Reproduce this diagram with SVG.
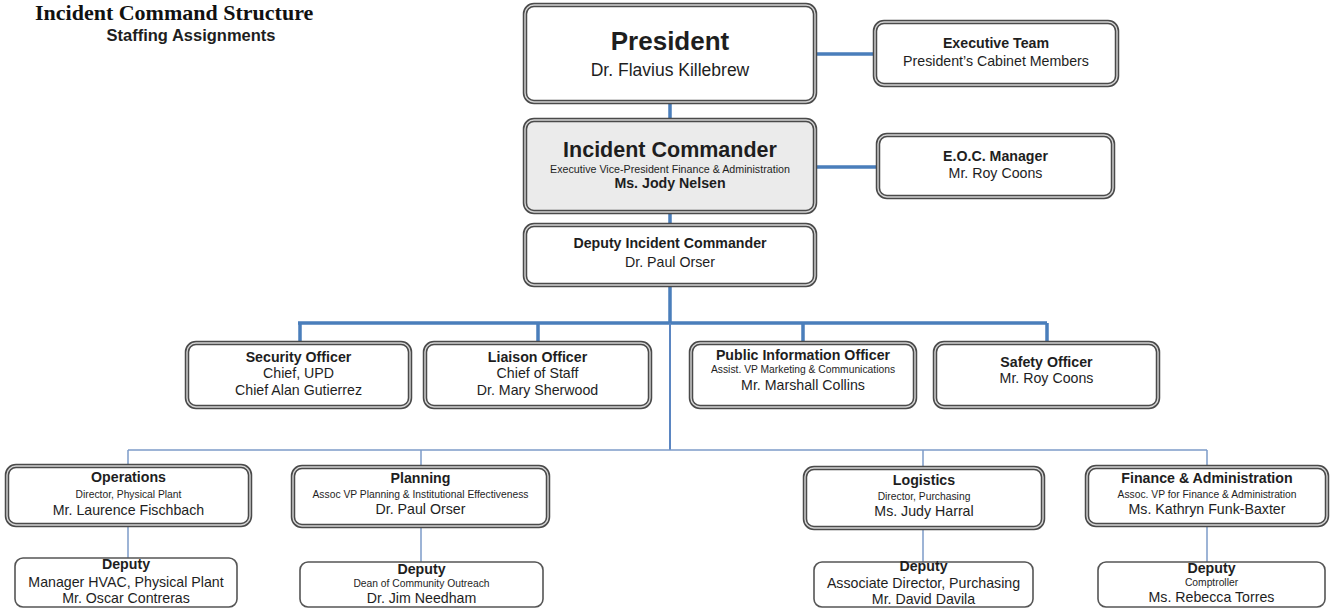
<svg xmlns="http://www.w3.org/2000/svg" width="1334" height="609" viewBox="0 0 1334 609">
<style>
text{font-family:"Liberation Sans",Arial,sans-serif;fill:#1e1e1e;text-anchor:middle}
.t{font-family:"Liberation Serif","Times New Roman",serif;font-weight:bold;font-size:22px;text-anchor:start;fill:#111}
.st{font-weight:bold;font-size:16.5px}
.h{font-weight:bold;font-size:14.2px}
.n{font-size:14.2px}
.s{font-size:10.3px}
.o{fill:#fff;stroke:#4a4a4a;stroke-width:4.5}
.i{fill:none;stroke:#d4d4d4;stroke-width:1.4}
.g{fill:#ebebeb}
.sb{fill:#fff;stroke:#555;stroke-width:1.6}
.k{stroke:#4a7ebb;stroke-width:3.5;fill:none}
.m{stroke:#5b86c2;stroke-width:2;fill:none}
.l{stroke:#7d9cc9;stroke-width:1.5;fill:none}
</style>
<rect width="1334" height="609" fill="#fff"/>
<text class="t" x="35" y="20">Incident Command Structure</text>
<text class="st" x="191" y="41">Staffing Assignments</text>

<g id="connectors">
<path class="k" d="M815 54H875M670 102V120M815 167H878M670 212V225M670 285V323M298 323H1047M300 323V343M538 323V343M803 323V343M1047 323V343"/>
<path class="m" d="M670 323V450"/>
<path class="l" d="M128 450H1207M128 450V467M421 450V467M923 450V468M1207 450V467M128 525V558M421 526V562M923 528V562M1207 525V562"/>
</g>

<g id="president">
<rect class="o" x="525" y="5" width="290" height="97" rx="9"/>
<rect class="i" x="525" y="5" width="290" height="97" rx="9"/>
<text x="670" y="50" font-weight="bold" font-size="26">President</text>
<text x="670" y="76" font-size="17.5">Dr. Flavius Killebrew</text>
</g>

<g id="executive-team">
<rect class="o" x="875" y="22" width="242" height="63" rx="9"/>
<rect class="i" x="875" y="22" width="242" height="63" rx="9"/>
<text class="h" x="996" y="48">Executive Team</text>
<text class="n" x="996" y="66">President’s Cabinet Members</text>
</g>

<g id="incident-commander">
<rect class="o g" x="525" y="120" width="290" height="92" rx="9"/>
<rect class="i" x="525" y="120" width="290" height="92" rx="9"/>
<text x="670" y="157" font-weight="bold" font-size="21.5">Incident Commander</text>
<text x="670" y="173" font-size="10.7">Executive Vice-President Finance &amp; Administration</text>
<text class="h" x="670" y="188">Ms. Jody Nelsen</text>
</g>

<g id="eoc-manager">
<rect class="o" x="878" y="135" width="235" height="62" rx="9"/>
<rect class="i" x="878" y="135" width="235" height="62" rx="9"/>
<text class="h" x="995.5" y="161">E.O.C. Manager</text>
<text class="n" x="995.5" y="178">Mr. Roy Coons</text>
</g>

<g id="deputy-ic">
<rect class="o" x="525" y="225" width="290" height="60" rx="9"/>
<rect class="i" x="525" y="225" width="290" height="60" rx="9"/>
<text class="h" x="670" y="248">Deputy Incident Commander</text>
<text class="n" x="670" y="267">Dr. Paul Orser</text>
</g>

<g id="security">
<rect class="o" x="187" y="343" width="223" height="64" rx="9"/>
<rect class="i" x="187" y="343" width="223" height="64" rx="9"/>
<text class="h" x="298.5" y="362">Security Officer</text>
<text class="n" x="298.5" y="378">Chief, UPD</text>
<text class="n" x="298.5" y="395">Chief Alan Gutierrez</text>
</g>

<g id="liaison">
<rect class="o" x="425" y="343" width="225" height="64" rx="9"/>
<rect class="i" x="425" y="343" width="225" height="64" rx="9"/>
<text class="h" x="537.5" y="362">Liaison Officer</text>
<text class="n" x="537.5" y="378">Chief of Staff</text>
<text class="n" x="537.5" y="395">Dr. Mary Sherwood</text>
</g>

<g id="pio">
<rect class="o" x="691" y="343" width="224" height="64" rx="9"/>
<rect class="i" x="691" y="343" width="224" height="64" rx="9"/>
<text class="h" x="803" y="360">Public Information Officer</text>
<text class="s" x="803" y="373">Assist. VP Marketing &amp; Communications</text>
<text class="n" x="803" y="390">Mr. Marshall Collins</text>
</g>

<g id="safety">
<rect class="o" x="935" y="343" width="223" height="64" rx="9"/>
<rect class="i" x="935" y="343" width="223" height="64" rx="9"/>
<text class="h" x="1046.5" y="367">Safety Officer</text>
<text class="n" x="1046.5" y="383">Mr. Roy Coons</text>
</g>

<g id="operations">
<rect class="o" x="7" y="466" width="243" height="59" rx="9"/>
<rect class="i" x="7" y="466" width="243" height="59" rx="9"/>
<text class="h" x="128.5" y="482">Operations</text>
<text class="s" x="128.5" y="498" font-size="10.6">Director, Physical Plant</text>
<text class="n" x="128.5" y="515">Mr. Laurence Fischbach</text>
</g>

<g id="planning">
<rect class="o" x="293" y="467" width="255" height="59" rx="9"/>
<rect class="i" x="293" y="467" width="255" height="59" rx="9"/>
<text class="h" x="420.5" y="483">Planning</text>
<text class="s" x="420.5" y="498">Assoc VP Planning &amp; Institutional Effectiveness</text>
<text class="n" x="420.5" y="514">Dr. Paul Orser</text>
</g>

<g id="logistics">
<rect class="o" x="805" y="468" width="238" height="60" rx="9"/>
<rect class="i" x="805" y="468" width="238" height="60" rx="9"/>
<text class="h" x="924" y="485">Logistics</text>
<text class="s" x="924" y="500">Director, Purchasing</text>
<text class="n" x="924" y="516">Ms. Judy Harral</text>
</g>

<g id="finance">
<rect class="o" x="1087" y="467" width="240" height="58" rx="9"/>
<rect class="i" x="1087" y="467" width="240" height="58" rx="9"/>
<text class="h" x="1207" y="483">Finance &amp; Administration</text>
<text class="s" x="1207" y="498">Assoc. VP for Finance &amp; Administration</text>
<text class="n" x="1207" y="514">Ms. Kathryn Funk-Baxter</text>
</g>

<g id="deputy-operations">
<rect class="sb" x="15" y="558" width="222" height="49" rx="8"/>
<text class="h" x="126" y="569">Deputy</text>
<text class="n" x="126" y="587">Manager HVAC, Physical Plant</text>
<text class="n" x="126" y="603">Mr. Oscar Contreras</text>
</g>

<g id="deputy-planning">
<rect class="sb" x="300" y="562" width="243" height="45" rx="8"/>
<text class="h" x="421.5" y="574">Deputy</text>
<text class="s" x="421.5" y="587" font-size="10.7">Dean of Community Outreach</text>
<text class="n" x="421.5" y="603" font-size="15">Dr. Jim Needham</text>
</g>

<g id="deputy-logistics">
<rect class="sb" x="814" y="562" width="219" height="45" rx="8"/>
<text class="h" x="923.5" y="571">Deputy</text>
<text class="n" x="923.5" y="588">Associate Director, Purchasing</text>
<text class="n" x="923.5" y="604">Mr. David Davila</text>
</g>

<g id="deputy-finance">
<rect class="sb" x="1098" y="562" width="227" height="45" rx="8"/>
<text class="h" x="1211.5" y="573">Deputy</text>
<text class="s" x="1211.5" y="586">Comptroller</text>
<text class="n" x="1211.5" y="602" font-size="15">Ms. Rebecca Torres</text>
</g>
</svg>
